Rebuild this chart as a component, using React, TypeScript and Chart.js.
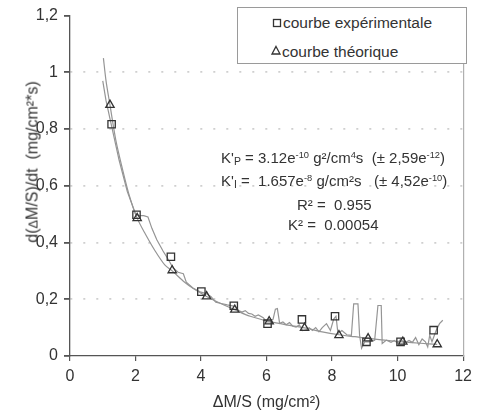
import React, { useEffect, useRef } from 'react';
import { Chart, registerables } from 'chart.js';

Chart.register(...registerables);

// ---- data ----
const expLineX = [1.0, 1.1, 1.27, 1.5, 1.75, 2.0, 2.1, 2.25, 2.38, 2.5, 2.65, 2.84, 3.0, 3.15, 3.3, 3.46, 3.55, 3.75, 4.0, 4.15, 4.3, 4.45, 4.62, 4.8, 5.03, 5.15, 5.25, 5.35, 5.45, 5.55, 5.65, 5.75, 5.9, 6.0, 6.1, 6.2, 6.27, 6.33, 6.4, 6.5, 6.6, 6.7, 6.8, 6.9, 7.0, 7.1, 7.2, 7.3, 7.4, 7.5, 7.6, 7.7, 7.83, 7.95, 8.05, 8.12, 8.18, 8.3, 8.45, 8.59, 8.66, 8.79, 8.84, 8.9, 9.0, 9.15, 9.3, 9.4, 9.5, 9.53, 9.66, 9.8, 9.9, 10.0, 10.1, 10.2, 10.35, 10.45, 10.55, 10.65, 10.75, 10.85, 10.92, 10.98, 11.05, 11.18, 11.28, 11.38];
const expLineY = [0.97, 0.9, 0.81, 0.69, 0.58, 0.5, 0.495, 0.495, 0.49, 0.45, 0.41, 0.37, 0.34, 0.31, 0.295, 0.29, 0.26, 0.24, 0.225, 0.22, 0.21, 0.19, 0.185, 0.18, 0.175, 0.16, 0.155, 0.16, 0.15, 0.148, 0.14, 0.145, 0.135, 0.12, 0.12, 0.13, 0.165, 0.167, 0.115, 0.12, 0.11, 0.118, 0.105, 0.102, 0.11, 0.09, 0.092, 0.1, 0.09, 0.1, 0.085, 0.1, 0.114, 0.09, 0.13, 0.14, 0.079, 0.09, 0.075, 0.073, 0.184, 0.184, 0.073, 0.027, 0.05, 0.05, 0.055, 0.178, 0.178, 0.044, 0.056, 0.048, 0.055, 0.045, 0.06, 0.045, 0.055, 0.048, 0.065, 0.04, 0.06, 0.05, 0.032, 0.073, 0.05, 0.091, 0.114, 0.126];

const theoLineX = [1.02, 1.1, 1.22, 1.4, 1.6, 1.8, 2.05, 2.3, 2.6, 2.9, 3.12, 3.5, 3.8, 4.17, 4.6, 5.03, 5.5, 6.08, 6.6, 7.16, 7.7, 8.21, 8.7, 9.1, 9.6, 10.16, 10.7, 11.21];
const theoLineY = [1.05, 0.97, 0.885, 0.76, 0.66, 0.57, 0.486, 0.43, 0.37, 0.32, 0.3, 0.26, 0.235, 0.21, 0.185, 0.163, 0.14, 0.122, 0.11, 0.099, 0.085, 0.075, 0.068, 0.062, 0.056, 0.05, 0.045, 0.041];

const expMarkX = [1.27, 2.03, 3.08, 4.01, 5.0, 6.03, 7.08, 8.09, 9.05, 10.09, 11.1];
const expMarkY = [0.817, 0.498, 0.35, 0.227, 0.177, 0.114, 0.129, 0.14, 0.05, 0.05, 0.091];

const theoMarkX = [1.22, 2.05, 3.12, 4.17, 5.03, 6.08, 7.16, 8.21, 9.1, 10.16, 11.21];
const theoMarkY = [0.885, 0.486, 0.302, 0.21, 0.163, 0.122, 0.099, 0.073, 0.062, 0.05, 0.041];

const xTickValues = [0, 2, 4, 6, 8, 10, 12];
const yTickValues = [0, 0.2, 0.4, 0.6, 0.8, 1, 1.2];
const yTickLabels = ['0', '0,2', '0,4', '0,6', '0,8', '1', '1,2'];

const legendLabels = ['courbe expérimentale', 'courbe théorique'];
const xTitle = 'ΔM/S (mg/cm²)';
const yTitleA = 'd(';
const yTitleDelta = 'Δ';
const yTitleB = 'M/S)/dt  (mg/cm²*s)';

const FONT = '"Liberation Sans", Arial, sans-serif';
const TEXT = '#333333';

const zip = (xs: number[], ys: number[]) => xs.map((x, i) => ({ x, y: ys[i] }));

export default function App() {
  const canvasRef = useRef<HTMLCanvasElement | null>(null);

  useEffect(() => {
    const canvas = canvasRef.current;
    if (!canvas) return;
    const chart = new Chart(canvas, {
      type: 'scatter',
      data: {
        datasets: [
          {
            label: legendLabels[0],
            data: zip(expMarkX, expMarkY),
            showLine: false,
            pointStyle: 'rect',
            pointRadius: 5.2,
            pointBorderColor: '#333',
            pointBackgroundColor: 'rgba(255,255,255,0)',
            pointBorderWidth: 1.3,
          },
          {
            label: legendLabels[1],
            data: zip(theoMarkX, theoMarkY),
            showLine: false,
            pointStyle: 'triangle',
            pointRadius: 4.8,
            pointBorderColor: '#333',
            pointBackgroundColor: 'rgba(255,255,255,0)',
            pointBorderWidth: 1.3,
          },
          {
            label: 'exp',
            data: zip(expLineX, expLineY),
            showLine: true,
            pointRadius: 0,
            borderColor: '#959595',
            borderWidth: 1.2,
          },
          {
            label: 'theo',
            data: zip(theoLineX, theoLineY),
            showLine: true,
            pointRadius: 0,
            borderColor: '#959595',
            borderWidth: 1.2,
            tension: 0.3,
          },
        ],
      },
      options: {
        responsive: false,
        animation: false,
        layout: { padding: { top: 12, right: 12, left: 0, bottom: 0 } },
        plugins: { legend: { display: false }, tooltip: { enabled: false } },
        scales: {
          x: {
            type: 'linear',
            min: 0,
            max: 12,
            afterBuildTicks: (s: any) => {
              s.ticks = xTickValues.map((v) => ({ value: v }));
            },
            ticks: { color: TEXT, font: { family: FONT, size: 16 }, padding: 6 },
            grid: { drawOnChartArea: false, tickLength: 5, tickColor: '#555', lineWidth: 1.2 },
            border: { color: '#555', width: 1.3 },
            title: {
              display: true,
              text: xTitle,
              color: TEXT,
              font: { family: FONT, size: 16 },
              padding: { top: 5, bottom: 5 },
            },
            afterFit: (s: any) => {
              s.height = 61;
            },
          },
          y: {
            type: 'linear',
            min: 0,
            max: 1.2,
            afterBuildTicks: (s: any) => {
              s.ticks = yTickValues.map((v) => ({ value: v }));
            },
            ticks: {
              color: TEXT,
              font: { family: FONT, size: 16 },
              padding: 6,
              callback: (_v: any, i: number) => yTickLabels[i],
            },
            grid: {
              color: (ctx: any) =>
                ctx.tick && (ctx.tick.value === 0 || ctx.tick.value > 1.1) ? 'rgba(0,0,0,0)' : '#cfcfcf',
              lineWidth: 1.8,
              tickColor: '#555',
              tickLength: 6,
            },
            border: { color: '#555', width: 1.3, dash: [2, 11] },
            afterFit: (s: any) => {
              s.width = 70;
            },
          },
          y2: {
            type: 'linear',
            position: 'right',
            display: true,
            min: 0,
            max: 1.2,
            ticks: { display: false },
            grid: { drawOnChartArea: false, drawTicks: false },
            border: { color: '#b0b0b0', width: 1.2 },
            afterFit: (s: any) => {
              s.width = 0;
            },
          },
        },
      },
    } as any);
    return () => chart.destroy();
  }, []);

  const txt: React.CSSProperties = {
    position: 'absolute',
    fontFamily: FONT,
    color: TEXT,
    whiteSpace: 'pre',
    lineHeight: '18px',
  };
  const sup: React.CSSProperties = { fontSize: '0.62em', verticalAlign: '0.55em', lineHeight: 0 };
  const sub: React.CSSProperties = { fontSize: '0.7em', verticalAlign: '-0.15em', lineHeight: 0 };

  return (
    <div style={{ position: 'fixed', left: 0, top: 0, width: 478, height: 417, background: '#fff', overflow: 'hidden' }}>
      <canvas ref={canvasRef} width={478} height={417} style={{ position: 'absolute', left: 0, top: 0, display: 'block' }} />

      {/* y axis title */}
      <div
        style={{
          ...txt,
          fontSize: 16,
          left: 33,
          top: 162,
          transform: 'translate(-50%, -50%) rotate(-90deg)',
        }}
      >
        {yTitleA}
        <span style={{ fontSize: '0.8em' }}>{yTitleDelta}</span>
        {yTitleB}
      </div>

      {/* legend */}
      <div
        style={{
          position: 'absolute',
          left: 237,
          top: 7,
          width: 228,
          height: 55,
          border: '1px solid #9a9a9a',
          background: '#fff',
        }}
      >
        <svg width={14} height={14} style={{ position: 'absolute', left: 32, top: 8 }}>
          <rect x={3.5} y={3.5} width={7} height={7} fill="none" stroke="#333" strokeWidth={1.3} />
        </svg>
        <div style={{ ...txt, fontSize: 15.5, left: 45, top: 6 }}>{legendLabels[0]}</div>
        <svg width={14} height={14} style={{ position: 'absolute', left: 31, top: 36 }}>
          <polygon points="7,2.5 11,10 3,10" fill="none" stroke="#333" strokeWidth={1.3} />
        </svg>
        <div style={{ ...txt, fontSize: 15.5, left: 44, top: 35 }}>{legendLabels[1]}</div>
      </div>

      {/* annotation */}
      <div style={{ ...txt, fontSize: 15, left: 221, top: 149 }}>
        K'<span style={sub}>P</span> = 3.12e<span style={sup}>-10</span> g²/cm<span style={sup}>4</span>s  (± 2,59e
        <span style={sup}>-12</span>)
      </div>
      <div style={{ ...txt, fontSize: 15, left: 221, top: 172 }}>
        K'<span style={sub}>I</span> =  1.657e<span style={sup}>-8</span> g/cm²s   (± 4,52e<span style={sup}>-10</span>)
      </div>
      <div style={{ ...txt, fontSize: 15, left: 297, top: 196 }}>R² =  0.955</div>
      <div style={{ ...txt, fontSize: 15, left: 288, top: 216 }}>K² =  0.00054</div>
    </div>
  );
}
